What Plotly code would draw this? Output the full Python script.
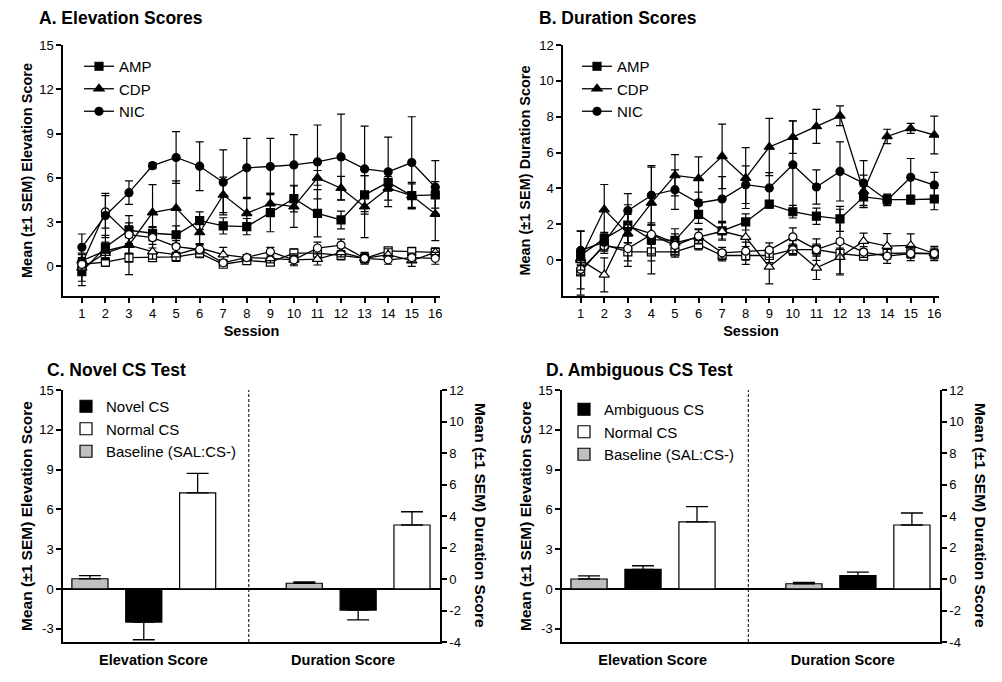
import plotly.graph_objects as go

FONT = "Arial, Liberation Sans, Helvetica, sans-serif"

# ---------------- data ----------------
sessions = list(range(1, 17))

# Panel A: Elevation scores (open = first marker, filled = second marker)
a_amp_open = [0.15, 0.3, 0.6, 0.6, 0.65, 0.9, 0.15, 0.4, 0.3, 0.9, 0.9, 0.75, 0.55, 1.05, 1.0, 0.95]
a_amp_open_err = [0.3, 0.3, 0.3, 0.2, 0.3, 0.3, 0.2, 0.2, 0.2, 0.3, 0.4, 0.3, 0.3, 0.2, 0.3, 0.3]
a_amp_fill = [-0.35, 1.3, 2.45, 2.25, 2.15, 3.1, 2.75, 2.7, 3.65, 4.6, 3.6, 3.15, 4.85, 5.7, 4.8, 4.85]
a_amp_fill_err = [0.95, 0.8, 0.5, 0.45, 0.6, 0.6, 0.55, 0.55, 1.3, 0.9, 1.6, 0.6, 1.3, 0.6, 0.8, 0.9]
a_cdp_open = [-0.1, 0.9, 1.45, 1.0, 0.8, 1.25, 0.8, 0.6, 0.55, 0.45, 0.5, 0.95, 0.55, 0.8, 0.4, 0.95]
a_cdp_open_err = [0.9, 0.4, 2.0, 0.5, 0.4, 0.3, 0.5, 0.2, 0.3, 0.3, 0.4, 0.3, 0.3, 0.4, 0.4, 0.3]
a_cdp_fill = [0.4, 1.05, 1.45, 3.65, 3.95, 2.3, 4.85, 3.6, 4.25, 4.05, 6.0, 5.3, 4.05, 5.3, 4.8, 3.55]
a_cdp_fill_err = [0.5, 0.6, 0.6, 1.9, 1.85, 0.8, 1.2, 1.0, 0.7, 1.4, 0.5, 0.8, 2.1, 0.8, 0.9, 1.8]
a_nic_open = [0.15, 3.7, 2.15, 1.95, 1.35, 1.15, 0.25, 0.6, 1.0, 0.45, 1.25, 1.45, 0.55, 0.45, 0.6, 0.55]
a_nic_open_err = [0.4, 1.1, 0.6, 0.7, 0.4, 0.3, 0.2, 0.2, 0.3, 0.4, 0.4, 0.4, 0.4, 0.3, 0.3, 0.4]
a_nic_fill = [1.3, 3.45, 5.0, 6.83, 7.38, 6.79, 5.7, 6.68, 6.77, 6.88, 7.08, 7.42, 6.61, 6.41, 7.04, 5.37]
a_nic_fill_err = [0.9, 1.5, 0.8, 0.2, 1.75, 1.65, 2.2, 2.0, 1.9, 2.05, 2.5, 2.9, 2.9, 2.35, 3.1, 1.8]

# Panel B: Duration scores
b_amp_open = [-0.65, 0.87, 0.46, 0.46, 0.46, 0.87, 0.26, 0.26, 0.26, 0.59, 0.59, 0.37, 0.22, 0.37, 0.41, 0.35]
b_amp_open_err = [1.3, 0.3, 0.5, 0.5, 0.3, 0.3, 0.3, 0.5, 0.4, 0.3, 0.3, 0.3, 0.2, 0.3, 0.3, 0.2]
b_amp_fill = [0.28, 1.2, 1.95, 1.15, 1.1, 2.55, 1.63, 2.13, 3.12, 2.7, 2.45, 2.3, 3.53, 3.38, 3.38, 3.41]
b_amp_fill_err = [0.3, 0.35, 0.6, 0.8, 0.65, 0.5, 0.45, 0.45, 0.2, 0.35, 0.45, 0.7, 0.6, 0.3, 0.25, 0.6]
b_cdp_open = [0.0, -0.82, 1.89, 1.48, 0.96, 1.3, 1.61, 1.28, -0.37, 0.69, -0.43, 0.17, 1.06, 0.78, 0.82, 0.37]
b_cdp_open_err = [1.6, 0.95, 1.2, 0.6, 0.5, 0.4, 0.5, 0.9, 0.95, 0.4, 0.65, 1.0, 0.45, 0.7, 0.65, 0.3]
b_cdp_fill = [0.1, 2.82, 1.48, 3.19, 4.73, 4.56, 5.79, 4.58, 6.31, 6.86, 7.46, 8.05, 3.84, 6.9, 7.35, 6.98]
b_cdp_fill_err = [0.4, 1.4, 0.5, 2.0, 1.15, 1.2, 1.8, 1.7, 1.6, 0.9, 0.95, 0.55, 0.9, 0.4, 0.28, 1.05]
b_nic_open = [-0.52, 0.78, 0.65, 1.43, 0.82, 1.34, 0.41, 0.5, 0.56, 1.3, 0.59, 1.04, 0.45, 0.22, 0.37, 0.37]
b_nic_open_err = [0.3, 0.4, 1.0, 2.2, 0.5, 0.4, 0.3, 0.5, 0.4, 0.5, 0.6, 1.8, 0.3, 0.4, 0.4, 0.4]
b_nic_fill = [0.54, 1.0, 2.76, 3.62, 3.93, 3.19, 3.41, 4.21, 4.03, 5.32, 4.08, 4.95, 4.3, 3.34, 4.62, 4.19]
b_nic_fill_err = [1.1, 0.5, 0.95, 1.65, 1.1, 0.6, 1.25, 1.05, 0.85, 2.45, 0.95, 1.65, 1.25, 0.3, 1.05, 0.7]

# Panels C and D: bar tests
c_conditions = ["Baseline (SAL:CS-)", "Novel CS", "Normal CS"]
c_elev = [0.77, -2.5, 7.25]
c_elev_sem = [0.23, 1.33, 1.47]
c_dur = [-0.27, -1.97, 3.43]
c_dur_sem = [0.08, 0.63, 0.84]

d_conditions = ["Baseline (SAL:CS-)", "Ambiguous CS", "Normal CS"]
d_elev = [0.75, 1.48, 5.05]
d_elev_sem = [0.23, 0.27, 1.15]
d_dur = [-0.3, 0.21, 3.43]
d_dur_sem = [0.09, 0.23, 0.76]

bar_fill = ["#c0c0c0", "black", "white"]
legend_rank = [3, 1, 2]
elev_pos = [0.5, 1.5, 2.5]
dur_pos = [4.48, 5.48, 6.48]
divider_pos = 3.45
group_label_pos = [1.68, 5.2]
group_labels = ["Elevation Score", "Duration Score"]

L_RANGE = [-4, 15]
R_RANGE = [-4, 12]
L_TICKS = [-3, 0, 3, 6, 9, 12, 15]
R_TICKS = [-4, -2, 0, 2, 4, 6, 8, 10, 12]

fig = go.Figure()

# ---------------- line panels ----------------
def add_series(xa, ya, y, err, symbol, fill, name, legend, showlegend):
    fig.add_trace(go.Scatter(
        x=sessions, y=y, xaxis=xa, yaxis=ya, mode="lines+markers",
        line=dict(color="black", width=1.3),
        marker=dict(symbol=symbol, size=8 if symbol != "triangle-up" else 9, color=fill,
                    line=dict(color="black", width=1.2)),
        error_y=dict(type="data", array=err, visible=True, color="black", thickness=1.2, width=4),
        name=name, legend=legend, legendgroup=legend + name, showlegend=showlegend,
    ))

panelA = [("AMP", "square", a_amp_open, a_amp_open_err, a_amp_fill, a_amp_fill_err),
          ("CDP", "triangle-up", a_cdp_open, a_cdp_open_err, a_cdp_fill, a_cdp_fill_err),
          ("NIC", "circle", a_nic_open, a_nic_open_err, a_nic_fill, a_nic_fill_err)]
panelB = [("AMP", "square", b_amp_open, b_amp_open_err, b_amp_fill, b_amp_fill_err),
          ("CDP", "triangle-up", b_cdp_open, b_cdp_open_err, b_cdp_fill, b_cdp_fill_err),
          ("NIC", "circle", b_nic_open, b_nic_open_err, b_nic_fill, b_nic_fill_err)]

for (xa, ya, leg, panel) in [("x", "y", "legend", panelA), ("x2", "y2", "legend2", panelB)]:
    for name, sym, yo, eo, yf, ef in panel:
        add_series(xa, ya, yo, eo, sym, "white", name, leg, False)
        add_series(xa, ya, yf, ef, sym, "black", name, leg, True)

# ---------------- bar panels ----------------
base_r = R_RANGE[0] + (0 - L_RANGE[0]) / (L_RANGE[1] - L_RANGE[0]) * (R_RANGE[1] - R_RANGE[0])

def add_bars(xa, ya_left, ya_right, leg, conds, elev, elev_sem, dur, dur_sem):
    for i, cond in enumerate(conds):
        ev, es = elev[i], elev_sem[i]
        fig.add_trace(go.Bar(
            x=[elev_pos[i]], y=[ev], xaxis=xa, yaxis=ya_left, width=0.67,
            marker=dict(color=bar_fill[i], line=dict(color="black", width=1.2)),
            error_y=dict(type="data", symmetric=False,
                         array=[es if ev >= 0 else 0], arrayminus=[es if ev < 0 else 0],
                         color="black", thickness=1.3, width=11),
            name=cond, legend=leg, legendgroup=leg + cond, legendrank=legend_rank[i], showlegend=True,
        ))
        dv, ds = dur[i], dur_sem[i]
        up = dv >= base_r
        fig.add_trace(go.Bar(
            x=[dur_pos[i]], y=[dv - base_r], base=base_r, xaxis=xa, yaxis=ya_right, width=0.67,
            marker=dict(color=bar_fill[i], line=dict(color="black", width=1.2)),
            error_y=dict(type="data", symmetric=False,
                         array=[ds if up else 0], arrayminus=[0 if up else ds],
                         color="black", thickness=1.3, width=11),
            name=cond, legend=leg, legendgroup=leg + cond, showlegend=False,
        ))

add_bars("x3", "y3", "y4", "legend3", c_conditions, c_elev, c_elev_sem, c_dur, c_dur_sem)
add_bars("x4", "y5", "y6", "legend4", d_conditions, d_elev, d_elev_sem, d_dur, d_dur_sem)

# ---------------- layout ----------------
W, H = 1002, 682
def xd(a, b):
    return [a / W, b / W]
def yd(top, bottom):
    return [1 - bottom / H, 1 - top / H]

tickfont = dict(family=FONT, size=13, color="black")
titlefont = dict(family=FONT, size=14.5, color="black")
base_axis = dict(showline=True, linecolor="black", linewidth=1.5, ticks="outside", ticklen=5,
                 tickwidth=1.5, tickcolor="black", showgrid=False, zeroline=False, tickfont=tickfont,
                 automargin=False)
group_font = dict(family=FONT, size=14.5, color="black")
bar_title_font = dict(family=FONT, size=15.5, color="black")

fig.update_layout(
    width=W, height=H, margin=dict(l=0, r=0, t=0, b=0, autoexpand=False),
    paper_bgcolor="white", plot_bgcolor="white", barmode="overlay",
    font=dict(family=FONT, color="black"),
    xaxis=dict(base_axis, domain=xd(63, 440), anchor="y", range=[0.2, 16.2], tickvals=sessions,
               title=dict(text="<b>Session</b>", font=titlefont, standoff=6)),
    yaxis=dict(base_axis, domain=yd(45, 296), anchor="x", range=[-2, 15], tickvals=[0, 3, 6, 9, 12, 15],
               title=dict(text="<b>Mean (±1 SEM) Elevation Score</b>", font=titlefont, standoff=3)),
    xaxis2=dict(base_axis, domain=xd(563, 939), anchor="y2", range=[0.25, 16.2], tickvals=sessions,
                title=dict(text="<b>Session</b>", font=titlefont, standoff=6)),
    yaxis2=dict(base_axis, domain=yd(45, 296), anchor="x2", range=[-2, 12], tickvals=[0, 2, 4, 6, 8, 10, 12],
                title=dict(text="<b>Mean (±1 SEM) Duration Score</b>", font=titlefont, standoff=5)),
    xaxis3=dict(base_axis, domain=xd(63, 440), anchor="y3", range=[0, 7], tickvals=group_label_pos,
                ticktext=["<b>%s</b>" % t for t in group_labels], ticks="", ticklabelstandoff=4,
                tickfont=group_font),
    yaxis3=dict(base_axis, domain=yd(390, 642), anchor="x3", range=L_RANGE, tickvals=L_TICKS,
                ticktext=[str(v) for v in L_TICKS],
                zeroline=True, zerolinecolor="black", zerolinewidth=1.5,
                title=dict(text="<b>Mean (±1 SEM) Elevation Score</b>", font=bar_title_font, standoff=3)),
    yaxis4=dict(base_axis, overlaying="y3", anchor="x3", side="right", range=R_RANGE,
                tickvals=R_TICKS, ticktext=[str(v) for v in R_TICKS]),
    xaxis4=dict(base_axis, domain=xd(562, 940), anchor="y5", range=[0, 7], tickvals=group_label_pos,
                ticktext=["<b>%s</b>" % t for t in group_labels], ticks="", ticklabelstandoff=4,
                tickfont=group_font),
    yaxis5=dict(base_axis, domain=yd(390, 642), anchor="x4", range=L_RANGE, tickvals=L_TICKS,
                ticktext=[str(v) for v in L_TICKS],
                zeroline=True, zerolinecolor="black", zerolinewidth=1.5,
                title=dict(text="<b>Mean (±1 SEM) Elevation Score</b>", font=bar_title_font, standoff=3)),
    yaxis6=dict(base_axis, overlaying="y5", anchor="x4", side="right", range=R_RANGE,
                tickvals=R_TICKS, ticktext=[str(v) for v in R_TICKS]),
)

leg_common = dict(bgcolor="rgba(0,0,0,0)", xanchor="left", yanchor="top", tracegroupgap=3,
                  font=dict(family=FONT, size=15, color="black"), traceorder="normal")
fig.update_layout(
    legend=dict(leg_common, x=79 / W, y=1 - 50 / H),
    legend2=dict(leg_common, x=577 / W, y=1 - 50 / H),
    legend3=dict(leg_common, x=66 / W, y=1 - 390 / H, tracegroupgap=2),
    legend4=dict(leg_common, x=564 / W, y=1 - 393 / H, tracegroupgap=2),
)

# divider lines in bar panels
for xa, ya in [("x3", "y3"), ("x4", "y5")]:
    fig.add_shape(type="line", xref=xa, yref=ya + " domain", x0=divider_pos, x1=divider_pos, y0=0, y1=1,
                  line=dict(color="black", width=1, dash="3px,2px"))

# panel titles and right axis titles
titles = [("A. Elevation Scores", 37, 18), ("B. Duration Scores", 537, 18),
          ("C. Novel CS Test", 45, 370), ("D. Ambiguous CS Test", 544, 370)]
for text, px, py in titles:
    fig.add_annotation(text="<b>%s</b>" % text, xref="paper", yref="paper", x=px / W, y=1 - py / H,
                       xanchor="left", yanchor="middle", showarrow=False,
                       font=dict(family=FONT, size=17.5, color="black"))
for px in [481, 981]:
    fig.add_annotation(text="<b>Mean (±1 SEM) Duration Score</b>", xref="paper", yref="paper",
                       x=px / W, y=1 - 515 / H, textangle=90, showarrow=False,
                       xanchor="center", yanchor="middle", font=bar_title_font)

fig.write_html("out.html", config={"displayModeBar": False},
               post_script="document.body.style.margin='0';document.body.style.overflow='hidden';")
